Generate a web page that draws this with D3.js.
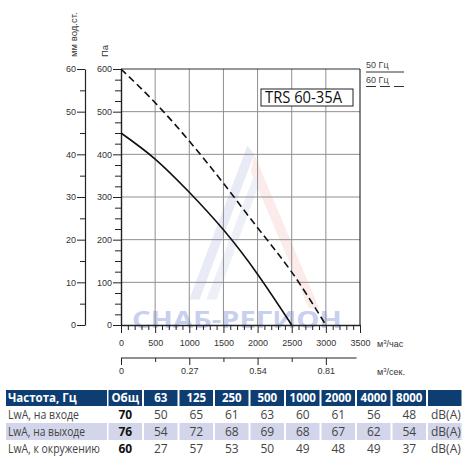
<!DOCTYPE html>
<html>
<head>
<meta charset="utf-8">
<script src="https://cdn.jsdelivr.net/npm/d3@7"></script>
<style>
  body { margin: 0; background: #fff; }
  svg { display: block; }
  .ax text { font-family: "Liberation Sans", Arial, sans-serif; font-size: 9px; fill: #333; }
  .ax line, .ax path { stroke: #222; }
</style>
</head>
<body>
<svg id="chart" width="470" height="461"></svg>
<script>
// data
var flowTicks = [0, 500, 1000, 1500, 2000, 2500, 3000, 3500];
var paTicks = [0, 100, 200, 300, 400, 500, 600];
var mmTicks = [0, 10, 20, 30, 40, 50, 60];
var secTicks = [0, 1000, 2000, 3000];
var secLabels = ["0", "0.27", "0.54", "0.81"];

var q50 = [0, 500, 1000, 1500, 2000, 2500];
var p50 = [450, 389, 311, 223, 119, 0];
var q60 = [0, 500, 1000, 1500, 2000, 2500, 3000];
var p60 = [600, 521, 431, 332, 228, 124, 0];

var headers = ["Частота, Гц", "Общ", "63", "125", "250", "500", "1000", "2000", "4000", "8000", ""];
var rowLabels = ["LwA, на входе", "LwA, на выходе", "LwA, к окружению"];
var totals = [70, 76, 60];
var inlet = [50, 65, 61, 63, 60, 61, 56, 48];
var outlet = [54, 72, 68, 69, 68, 67, 62, 54];
var ambient = [27, 57, 53, 50, 49, 48, 49, 37];
var unit = "dB(A)";

var svg = d3.select("#chart");

var x = d3.scaleLinear().domain([0, 3500]).range([121, 360]);
var y = d3.scaleLinear().domain([0, 600]).range([325, 69]);
var ymm = d3.scaleLinear().domain([0, 60]).range([325, 69]);

// watermark (faint)
var wm = svg.append("g").attr("opacity", 0.22);
wm.append("polygon")
    .attr("points", [[x(1000), y(60)], [x(1850), y(420)], [x(1950), y(400)], [x(1150), y(60)]].join(" "))
    .attr("fill", "#9aa6d8");
wm.append("polygon")
    .attr("points", [[x(1950), y(400)], [x(2900), y(40)], [x(2750), y(40)], [x(1900), y(360)]].join(" "))
    .attr("fill", "#f0a8a8");
wm.append("polygon")
    .attr("points", [[x(1250), y(60)], [x(1950), y(350)], [x(2020), y(330)], [x(1400), y(60)]].join(" "))
    .attr("fill", "#b5bde3");
svg.append("text")
    .attr("x", x(160)).attr("y", y(-8))
    .attr("textLength", 210).attr("lengthAdjust", "spacingAndGlyphs")
    .style("font-family", "'Open Sans', sans-serif").style("font-weight", "bold").style("font-size", "24px")
    .attr("fill", "#c9cfee")
    .text("СНАБ-РЕГИОН");

// grid
var grid = svg.append("g");
grid.selectAll(".gx").data(flowTicks.slice(1, -1)).enter().append("line")
    .attr("x1", function (d) { return x(d); }).attr("x2", function (d) { return x(d); })
    .attr("y1", y(0)).attr("y2", y(600))
    .attr("stroke", "#8f8f8f").attr("stroke-width", 1);
grid.selectAll(".gy").data(paTicks.slice(1, -1)).enter().append("line")
    .attr("x1", x(0)).attr("x2", x(3500))
    .attr("y1", function (d) { return y(d); }).attr("y2", function (d) { return y(d); })
    .attr("stroke", "#8f8f8f").attr("stroke-width", 1);
// frame top and right
grid.append("line").attr("x1", x(0)).attr("x2", x(3500)).attr("y1", y(600)).attr("y2", y(600))
    .attr("stroke", "#333").attr("stroke-width", 1.2);
grid.append("line").attr("x1", x(3500)).attr("x2", x(3500)).attr("y1", y(0)).attr("y2", y(600))
    .attr("stroke", "#333").attr("stroke-width", 1.2);

// Pa axis
svg.append("g").attr("class", "ax").attr("transform", "translate(" + x(0) + ",0)")
    .call(d3.axisLeft(y).tickValues(paTicks).tickSize(8).tickSizeOuter(0).tickPadding(1))
    .call(function (g) { g.select(".domain").attr("stroke-width", 1.4); });
svg.append("g").attr("class", "ax").attr("transform", "translate(" + x(0) + ",0)")
    .call(d3.axisLeft(y).tickValues(d3.range(25, 600, 25).filter(function (d) { return d % 100; }))
        .tickSize(6).tickSizeOuter(0).tickFormat(""))
    .call(function (g) { g.select(".domain").remove(); });

// mm axis
svg.append("g").attr("class", "ax").attr("transform", "translate(85,0)")
    .call(d3.axisLeft(ymm).tickValues(mmTicks).tickSize(8).tickSizeOuter(0).tickPadding(1))
    .call(function (g) { g.select(".domain").attr("stroke-width", 1.2); });
svg.append("g").attr("class", "ax").attr("transform", "translate(85,0)")
    .call(d3.axisLeft(ymm).tickValues(d3.range(5, 60, 10)).tickSize(5).tickSizeOuter(0).tickFormat(""))
    .call(function (g) { g.select(".domain").remove(); });

// axis titles
svg.append("text").attr("transform", "translate(77,57) rotate(-90)")
    .style("font-family", "'Liberation Sans', Arial, sans-serif").style("font-size", "9.5px").attr("fill", "#333")
    .text("мм вод.ст.");
svg.append("text").attr("transform", "translate(108,57) rotate(-90)")
    .style("font-family", "'Liberation Sans', Arial, sans-serif").style("font-size", "9.5px").attr("fill", "#333")
    .text("Па");

// flow axis (m3/h)
svg.append("g").attr("class", "ax").attr("transform", "translate(0," + y(0) + ")")
    .call(d3.axisBottom(x).tickValues(flowTicks).tickSize(8).tickSizeOuter(0).tickPadding(7)
        .tickFormat(d3.format("d")))
    .call(function (g) { g.select(".domain").attr("stroke-width", 1.4); });
svg.append("g").attr("class", "ax").attr("transform", "translate(0," + y(0) + ")")
    .call(d3.axisBottom(x).tickValues(d3.range(100, 3500, 100).filter(function (d) { return d % 500; }))
        .tickSize(5).tickSizeOuter(0).tickFormat(""))
    .call(function (g) { g.select(".domain").remove(); });
svg.append("text").attr("x", 377).attr("y", 346.5)
    .style("font-family", "'Liberation Sans', Arial, sans-serif").style("font-size", "9px").attr("fill", "#333")
    .html("м<tspan dy='-3' font-size='6'>3</tspan><tspan dy='3'>/час</tspan>");

// flow axis (m3/s)
var sec = svg.append("g").attr("class", "ax").attr("transform", "translate(0,358)")
    .call(d3.axisBottom(x).tickValues(secTicks).tickSize(7).tickSizeOuter(0).tickPadding(3)
        .tickFormat(function (d, i) { return secLabels[i]; }));
sec.select(".domain").remove();
sec.append("line").attr("x1", x(0)).attr("x2", x(3450)).attr("stroke", "#222").attr("stroke-width", 1.2);
svg.append("g").attr("class", "ax").attr("transform", "translate(0,358)")
    .call(d3.axisBottom(x).tickValues([500, 1500, 2500]).tickSize(4).tickSizeOuter(0).tickFormat(""))
    .call(function (g) { g.select(".domain").remove(); });
svg.append("text").attr("x", 377).attr("y", 374.5)
    .style("font-family", "'Liberation Sans', Arial, sans-serif").style("font-size", "9px").attr("fill", "#333")
    .html("м<tspan dy='-3' font-size='6'>3</tspan><tspan dy='3'>/сек.</tspan>");

// curves
var line = d3.line()
    .x(function (d) { return x(d[0]); })
    .y(function (d) { return y(d[1]); })
    .curve(d3.curveNatural);
svg.append("path").datum(d3.zip(q50, p50)).attr("d", line)
    .attr("fill", "none").attr("stroke", "#111").attr("stroke-width", 1.6);
svg.append("path").datum(d3.zip(q60, p60)).attr("d", line)
    .attr("fill", "none").attr("stroke", "#111").attr("stroke-width", 1.6)
    .attr("stroke-dasharray", "7,4");

// model label
svg.append("rect").attr("x", 261).attr("y", 89).attr("width", 92).attr("height", 17)
    .attr("fill", "#fff").attr("stroke", "#222").attr("stroke-width", 1);
svg.append("text").attr("x", 265).attr("y", 102.5)
    .attr("textLength", 77).attr("lengthAdjust", "spacingAndGlyphs")
    .style("font-family", "'Open Sans', sans-serif").style("font-size", "16px").attr("fill", "#111")
    .text("TRS 60-35A");

// legend
var leg = svg.append("g").style("font-family", "'Liberation Sans', Arial, sans-serif").style("font-size", "9px");
leg.append("text").attr("x", 366).attr("y", 67.5).attr("fill", "#444").text("50 Гц");
leg.append("line").attr("x1", 366).attr("x2", 404).attr("y1", 72).attr("y2", 72)
    .attr("stroke", "#333").attr("stroke-width", 1);
leg.append("text").attr("x", 366).attr("y", 82.5).attr("fill", "#444").text("60 Гц");
leg.append("line").attr("x1", 366).attr("x2", 404).attr("y1", 86.5).attr("y2", 86.5)
    .attr("stroke", "#333").attr("stroke-width", 1).attr("stroke-dasharray", "10,4");

// table
var rows = [inlet, outlet, ambient];
var labelLen = [71, 77, 92];
var colX = [6].concat(d3.range(10).map(function (i) { return 108.5 + i * 35.5; }));
var colW = [101].concat(d3.range(10).map(function () { return 33.5; }));
var tbl = svg.append("g").style("font-family", "'Open Sans', sans-serif");
var headTop = 390, headH = 16, rowH = 17;

tbl.selectAll(".hcell").data(headers).enter().append("rect")
    .attr("x", function (d, i) { return colX[i]; }).attr("y", headTop)
    .attr("width", function (d, i) { return colW[i]; }).attr("height", headH)
    .attr("fill", "#0e3d72");
tbl.selectAll(".htext").data(headers).enter().append("text")
    .attr("x", function (d, i) { return i === 0 ? colX[i] + 2 : colX[i] + colW[i] / 2; })
    .attr("y", headTop + 12)
    .attr("text-anchor", function (d, i) { return i === 0 ? "start" : "middle"; })
    .style("font-size", "11.5px").style("font-weight", "bold").attr("fill", "#fff")
    .text(function (d) { return d; });

rows.forEach(function (vals, r) {
    var top = headTop + headH + r * rowH;
    if (r === 1) {
        colX.forEach(function (cx, i) {
            tbl.append("rect").attr("x", cx).attr("y", top).attr("width", colW[i]).attr("height", rowH).attr("fill", "#d3d6ea");
        });
    }
    var base = top + 13;
    tbl.append("text").attr("x", colX[0] + 2).attr("y", base)
        .attr("textLength", labelLen[r]).attr("lengthAdjust", "spacingAndGlyphs")
        .style("font-size", "12px").attr("fill", "#444").text(rowLabels[r]);
    tbl.append("text").attr("x", colX[1] + colW[1] / 2).attr("y", base).attr("text-anchor", "middle")
        .style("font-size", "12px").style("font-weight", "bold").attr("fill", "#111").text(totals[r]);
    vals.forEach(function (v, i) {
        tbl.append("text").attr("x", colX[i + 2] + colW[i + 2] / 2).attr("y", base).attr("text-anchor", "middle")
            .style("font-size", "12px").attr("fill", "#444").text(v);
    });
    tbl.append("text").attr("x", colX[10] + 3).attr("y", base)
        .style("font-size", "12px").attr("fill", "#444").text(unit);
});
</script>
</body>
</html>
